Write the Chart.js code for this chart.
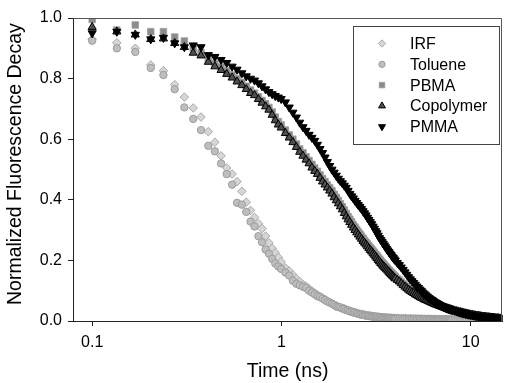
<!DOCTYPE html>
<html><head><meta charset="utf-8">
<script src="https://cdn.jsdelivr.net/npm/chart.js@4/dist/chart.umd.min.js"></script>
<style>html,body{margin:0;padding:0;background:#fff;overflow:hidden}#c{display:block}</style>
</head><body>
<canvas id="c" width="508" height="383"></canvas>
<script>
const seriesNames = ['IRF', 'Toluene', 'PBMA', 'Copolymer', 'PMMA'];

// time axis (ns)
const time = [
  0.1, 0.135, 0.169, 0.204, 0.238, 0.273, 0.307, 0.342, 0.376, 0.411, 0.445, 0.48, 0.514, 0.549, 0.583, 0.618, 0.652, 0.687, 0.721, 0.756, 0.79, 0.825, 0.859, 0.894, 0.928, 0.963, 0.997,
  1.05, 1.1, 1.15, 1.2, 1.25, 1.3, 1.35, 1.4, 1.45, 1.5, 1.55, 1.6, 1.65, 1.7, 1.75, 1.8, 1.85, 1.9, 1.95, 2.0,
  2.05, 2.1, 2.15, 2.2, 2.25, 2.3, 2.35, 2.4, 2.45, 2.5, 2.55, 2.6, 2.65, 2.7, 2.75, 2.8, 2.85, 2.9, 2.95, 3.0,
  3.05, 3.1, 3.15, 3.2, 3.25, 3.3, 3.35, 3.4, 3.45, 3.5, 3.55, 3.6, 3.65, 3.7, 3.75, 3.8, 3.85, 3.9, 3.95, 4.0,
  4.1, 4.2, 4.3, 4.4, 4.5, 4.6, 4.7, 4.8, 4.9, 5.0, 5.1, 5.2, 5.3, 5.4, 5.5, 5.6, 5.7, 5.8, 5.9, 6.0,
  6.1, 6.2, 6.3, 6.4, 6.5, 6.6, 6.7, 6.8, 6.9, 7.0, 7.1, 7.2, 7.3, 7.4, 7.5, 7.6, 7.7, 7.8, 7.9, 8.0,
  8.2, 8.4, 8.6, 8.8, 9.0, 9.2, 9.4, 9.6, 9.8, 10.0, 10.2, 10.4, 10.6, 10.8, 11.0, 11.2, 11.4, 11.6, 11.8, 12.0,
  12.2, 12.4, 12.6, 12.8, 13.0, 13.2, 13.4, 13.6, 13.8, 14.0, 14.2, 14.4
];

const irf = [
  0.93, 0.918, 0.90, 0.845, 0.826, 0.78, 0.739, 0.703, 0.673, 0.625, 0.59, 0.545, 0.505, 0.485, 0.46, 0.428, 0.392, 0.365, 0.342, 0.322, 0.305, 0.28, 0.258, 0.24, 0.225, 0.21, 0.195,
  0.175, 0.165, 0.152, 0.14, 0.13, 0.12, 0.115, 0.106, 0.099, 0.092, 0.086, 0.081, 0.076, 0.071, 0.066, 0.062, 0.058, 0.054, 0.05, 0.047,
  0.044, 0.042, 0.04, 0.037, 0.035, 0.033, 0.031, 0.029, 0.028, 0.026, 0.025, 0.023, 0.022, 0.021, 0.02, 0.019, 0.018, 0.017, 0.017, 0.016,
  0.015, 0.015, 0.014, 0.014, 0.013, 0.013, 0.012, 0.012, 0.012, 0.011, 0.011, 0.011, 0.01, 0.01, 0.01, 0.01, 0.009, 0.009, 0.009, 0.009,
  0.009, 0.008, 0.008, 0.008, 0.008, 0.008, 0.007, 0.008, 0.007, 0.007, 0.007, 0.007, 0.007, 0.006, 0.007, 0.006, 0.006, 0.006, 0.006, 0.006,
  0.006, 0.006, 0.005, 0.006, 0.005, 0.005, 0.005, 0.005, 0.005, 0.005, 0.005, 0.005, 0.005, 0.004, 0.005, 0.004, 0.005, 0.004, 0.004, 0.004,
  0.004, 0.004, 0.004, 0.005, 0.004, 0.004, 0.004, 0.004, 0.003, 0.004, 0.004, 0.004, 0.003, 0.004, 0.003, 0.004, 0.003, 0.003, 0.004, 0.003,
  0.003, 0.003, 0.004, 0.003, 0.003, 0.003, 0.003, 0.003, 0.002, 0.003, 0.003, 0.003
];

const toluene = [
  0.925, 0.90, 0.888, 0.835, 0.812, 0.765, 0.705, 0.667, 0.63, 0.578, 0.56, 0.52, 0.485, 0.45, 0.39, 0.384, 0.36, 0.328, 0.312, 0.28, 0.26, 0.236, 0.222, 0.205, 0.19, 0.18, 0.172,
  0.16, 0.15, 0.133, 0.123, 0.118, 0.113, 0.109, 0.1, 0.094, 0.088, 0.082, 0.079, 0.074, 0.069, 0.064, 0.061, 0.057, 0.053, 0.048, 0.046,
  0.045, 0.041, 0.04, 0.036, 0.035, 0.032, 0.031, 0.028, 0.028, 0.025, 0.024, 0.022, 0.022, 0.02, 0.019, 0.018, 0.018, 0.017, 0.016, 0.015,
  0.015, 0.014, 0.014, 0.013, 0.013, 0.012, 0.012, 0.011, 0.011, 0.011, 0.01, 0.01, 0.01, 0.01, 0.009, 0.009, 0.009, 0.009, 0.008, 0.008,
  0.008, 0.008, 0.008, 0.007, 0.008, 0.007, 0.007, 0.007, 0.007, 0.007, 0.007, 0.006, 0.006, 0.007, 0.006, 0.006, 0.006, 0.006, 0.006, 0.005,
  0.006, 0.005, 0.005, 0.005, 0.005, 0.005, 0.005, 0.005, 0.004, 0.005, 0.005, 0.004, 0.004, 0.005, 0.004, 0.004, 0.004, 0.004, 0.004, 0.004,
  0.004, 0.004, 0.003, 0.004, 0.004, 0.004, 0.003, 0.004, 0.003, 0.003, 0.004, 0.003, 0.003, 0.003, 0.003, 0.004, 0.003, 0.003, 0.003, 0.003,
  0.003, 0.002, 0.003, 0.003, 0.003, 0.002, 0.003, 0.003, 0.002, 0.003, 0.002, 0.002
];

const pbma = [
  0.995, 0.96, 0.977, 0.955, 0.955, 0.937, 0.924, 0.90, 0.885, 0.865, 0.85, 0.838, 0.825, 0.812, 0.80, 0.788, 0.775, 0.762, 0.752, 0.74, 0.728, 0.717, 0.705, 0.69, 0.673, 0.658, 0.647,
  0.63, 0.614, 0.60, 0.584, 0.568, 0.555, 0.542, 0.53, 0.517, 0.505, 0.494, 0.482, 0.47, 0.46, 0.449, 0.44, 0.43, 0.418, 0.408, 0.398,
  0.387, 0.377, 0.366, 0.355, 0.345, 0.336, 0.327, 0.318, 0.31, 0.302, 0.294, 0.287, 0.28, 0.273, 0.266, 0.26, 0.254, 0.248, 0.242, 0.237,
  0.231, 0.226, 0.22, 0.215, 0.209, 0.204, 0.199, 0.194, 0.19, 0.185, 0.181, 0.177, 0.172, 0.168, 0.164, 0.16, 0.156, 0.153, 0.149, 0.146,
  0.14, 0.135, 0.129, 0.123, 0.118, 0.113, 0.108, 0.104, 0.1, 0.096, 0.092, 0.089, 0.086, 0.083, 0.08, 0.077, 0.074, 0.072, 0.07, 0.068,
  0.066, 0.064, 0.062, 0.06, 0.058, 0.056, 0.054, 0.053, 0.051, 0.05, 0.048, 0.047, 0.046, 0.045, 0.043, 0.042, 0.041, 0.04, 0.039, 0.038,
  0.036, 0.034, 0.032, 0.03, 0.029, 0.027, 0.026, 0.025, 0.023, 0.022, 0.021, 0.02, 0.019, 0.018, 0.017, 0.016, 0.016, 0.015, 0.014, 0.014,
  0.013, 0.012, 0.012, 0.011, 0.011, 0.01, 0.01, 0.01, 0.009, 0.009, 0.009, 0.009
];

const copolymer = [
  0.97, 0.955, 0.945, 0.93, 0.932, 0.917, 0.904, 0.885, 0.876, 0.855, 0.84, 0.828, 0.815, 0.803, 0.79, 0.778, 0.765, 0.752, 0.745, 0.732, 0.72, 0.708, 0.697, 0.68, 0.662, 0.648, 0.638,
  0.62, 0.605, 0.59, 0.574, 0.558, 0.545, 0.532, 0.52, 0.506, 0.495, 0.485, 0.472, 0.46, 0.45, 0.44, 0.43, 0.42, 0.408, 0.398, 0.388,
  0.378, 0.368, 0.356, 0.345, 0.335, 0.326, 0.317, 0.308, 0.3, 0.292, 0.285, 0.278, 0.271, 0.264, 0.258, 0.252, 0.246, 0.24, 0.234, 0.229,
  0.223, 0.218, 0.212, 0.207, 0.201, 0.196, 0.191, 0.186, 0.182, 0.178, 0.174, 0.17, 0.166, 0.162, 0.158, 0.154, 0.15, 0.147, 0.143, 0.14,
  0.135, 0.13, 0.124, 0.118, 0.113, 0.108, 0.103, 0.099, 0.095, 0.092, 0.088, 0.085, 0.082, 0.079, 0.076, 0.074, 0.071, 0.069, 0.067, 0.065,
  0.063, 0.061, 0.059, 0.057, 0.055, 0.054, 0.052, 0.051, 0.049, 0.048, 0.046, 0.045, 0.044, 0.043, 0.041, 0.04, 0.039, 0.038, 0.037, 0.036,
  0.034, 0.032, 0.031, 0.029, 0.028, 0.026, 0.025, 0.024, 0.022, 0.021, 0.02, 0.019, 0.018, 0.017, 0.017, 0.016, 0.015, 0.014, 0.014, 0.013,
  0.013, 0.012, 0.012, 0.011, 0.011, 0.01, 0.01, 0.009, 0.009, 0.009, 0.008, 0.008
];

const pmma = [
  0.95, 0.955, 0.945, 0.93, 0.935, 0.917, 0.904, 0.91, 0.904, 0.878, 0.872, 0.862, 0.852, 0.84, 0.83, 0.818, 0.808, 0.80, 0.794, 0.785, 0.775, 0.765, 0.756, 0.749, 0.743, 0.738, 0.733,
  0.722, 0.705, 0.688, 0.672, 0.655, 0.64, 0.628, 0.615, 0.605, 0.595, 0.582, 0.568, 0.555, 0.54, 0.525, 0.512, 0.50, 0.49, 0.48, 0.47,
  0.462, 0.455, 0.447, 0.44, 0.43, 0.42, 0.412, 0.405, 0.397, 0.39, 0.383, 0.377, 0.37, 0.363, 0.356, 0.349, 0.341, 0.334, 0.327, 0.32,
  0.312, 0.305, 0.297, 0.29, 0.282, 0.274, 0.268, 0.262, 0.256, 0.25, 0.244, 0.238, 0.233, 0.228, 0.223, 0.218, 0.213, 0.209, 0.204, 0.2,
  0.192, 0.185, 0.177, 0.169, 0.161, 0.153, 0.145, 0.138, 0.132, 0.126, 0.12, 0.114, 0.109, 0.104, 0.099, 0.094, 0.089, 0.085, 0.081, 0.077,
  0.074, 0.071, 0.068, 0.065, 0.062, 0.06, 0.057, 0.055, 0.052, 0.05, 0.048, 0.046, 0.045, 0.043, 0.042, 0.04, 0.039, 0.038, 0.037, 0.036,
  0.034, 0.032, 0.03, 0.028, 0.026, 0.025, 0.023, 0.022, 0.021, 0.02, 0.019, 0.018, 0.017, 0.016, 0.016, 0.015, 0.014, 0.014, 0.013, 0.013,
  0.012, 0.012, 0.012, 0.011, 0.011, 0.011, 0.01, 0.01, 0.01, 0.01, 0.01, 0.01
];

const xTickValues = [0.1, 1, 10];
const xTickLabels = ['0.1', '1', '10'];
const yTickValues = [0, 0.2, 0.4, 0.6, 0.8, 1.0];
const yTickLabels = ['0.0', '0.2', '0.4', '0.6', '0.8', '1.0'];

const FONT = '"Liberation Sans", Arial, Helvetica, sans-serif';
Chart.defaults.font.family = FONT;
Chart.defaults.color = '#000';

const seriesValues = [irf, toluene, pbma, copolymer, pmma];
seriesValues.forEach((s, i) => { if (s.length !== time.length) console.error(seriesNames[i] + ' length ' + s.length + ' vs ' + time.length); });

const pts = ys => time.map((t, i) => ({ x: t, y: ys[i] }));

const styles = [
  { pointStyle: 'rectRot', pointRadius: 4.3, backgroundColor: '#d6d6d6', borderColor: '#aaaaaa', pointBorderWidth: 1, pointRotation: 0, order: 5 },
  { pointStyle: 'circle', pointRadius: 3.7, backgroundColor: '#bebebe', borderColor: '#9c9c9c', pointBorderWidth: 1, pointRotation: 0, order: 4 },
  { pointStyle: 'rect', pointRadius: 4.6, backgroundColor: '#8c8c8c', borderColor: '#9a9a9a', pointBorderWidth: 0.8, pointRotation: 0, order: 3 },
  { pointStyle: 'triangle', pointRadius: 4.7, backgroundColor: '#4f4f4f', borderColor: '#000000', pointBorderWidth: 1, pointRotation: 0, order: 2 },
  { pointStyle: 'triangle', pointRadius: 4.7, backgroundColor: '#000000', borderColor: '#000000', pointBorderWidth: 1, pointRotation: 180, order: 1 }
];

const datasets = seriesNames.map((name, i) => Object.assign({
  label: name,
  data: pts(seriesValues[i]),
  showLine: false,
  pointHoverRadius: styles[i].pointRadius
}, styles[i]));

const frameAndLegend = {
  id: 'frameAndLegend',
  afterDatasetsDraw(chart) {
    const { ctx, chartArea: a } = chart;
    ctx.save();
    ctx.strokeStyle = '#555';
    ctx.lineWidth = 1;
    ctx.beginPath();
    ctx.moveTo(Math.round(a.left) + 0.5, Math.round(a.top) + 0.5);
    ctx.lineTo(Math.round(a.right) - 0.5, Math.round(a.top) + 0.5);
    ctx.lineTo(Math.round(a.right) - 0.5, Math.round(a.bottom) + 0.5);
    ctx.stroke();
    const bx = 353.5, by = 26.5, bw = 146, bh = 118;
    ctx.fillStyle = '#fff';
    ctx.fillRect(bx, by, bw, bh);
    ctx.strokeStyle = '#444';
    ctx.strokeRect(bx, by, bw, bh);
    ctx.font = '16px ' + FONT;
    ctx.textBaseline = 'middle';
    ctx.textAlign = 'left';
    chart.data.datasets.forEach((ds, i) => {
      const y = 43.5 + i * 20.8;
      ctx.fillStyle = ds.backgroundColor;
      ctx.strokeStyle = ds.borderColor;
      ctx.lineWidth = ds.pointBorderWidth;
      Chart.helpers.drawPoint(ctx, {
        pointStyle: ds.pointStyle,
        radius: ds.pointRadius * 0.85,
        rotation: ds.pointRotation,
        borderWidth: ds.pointBorderWidth
      }, 382, y);
      ctx.fillStyle = '#000';
      ctx.fillText(ds.label, 410, y + 1);
    });
    ctx.restore();
  }
};

new Chart(document.getElementById('c'), {
  type: 'scatter',
  data: { datasets },
  options: {
    responsive: false,
    animation: false,
    devicePixelRatio: 1,
    events: [],
    layout: { padding: { left: 0, top: 18, right: 2, bottom: 0 } },
    plugins: { legend: { display: false }, tooltip: { enabled: false } },
    scales: {
      x: {
        type: 'logarithmic',
        min: 0.0792,
        max: 14.7,
        afterBuildTicks: s => { s.ticks = xTickValues.map(v => ({ value: v })); },
        afterFit: s => { s.height = 62; },
        ticks: {
          autoSkip: false,
          maxRotation: 0,
          padding: 7,
          font: { size: 16 },
          color: '#000',
          callback: (v) => { const k = xTickValues.findIndex(t => Math.abs(t - v) < 1e-9); return k >= 0 ? xTickLabels[k] : ''; }
        },
        grid: { drawOnChartArea: false, drawTicks: true, tickLength: 5, color: '#222', tickColor: '#222' },
        border: { display: true, color: '#222', width: 1 },
        title: { display: true, text: 'Time (ns)', font: { size: 19.5 }, color: '#000', padding: { top: 0, bottom: 0 } }
      },
      y: {
        type: 'linear',
        min: 0,
        max: 1,
        afterBuildTicks: s => { s.ticks = yTickValues.map(v => ({ value: v })); },
        afterFit: s => { s.width = 73; },
        ticks: {
          autoSkip: false,
          padding: 6,
          font: { size: 16 },
          color: '#000',
          callback: (v) => { const k = yTickValues.findIndex(t => Math.abs(t - v) < 1e-9); return k >= 0 ? yTickLabels[k] : ''; }
        },
        grid: { drawOnChartArea: false, drawTicks: true, tickLength: 5, color: '#222', tickColor: '#222' },
        border: { display: true, color: '#222', width: 1 },
        title: { display: true, text: '  Normalized Fluorescence Decay', font: { size: 19.5 }, color: '#000', padding: { top: 4, bottom: 0 } }
      }
    }
  },
  plugins: [frameAndLegend]
});
</script>
</body></html>
